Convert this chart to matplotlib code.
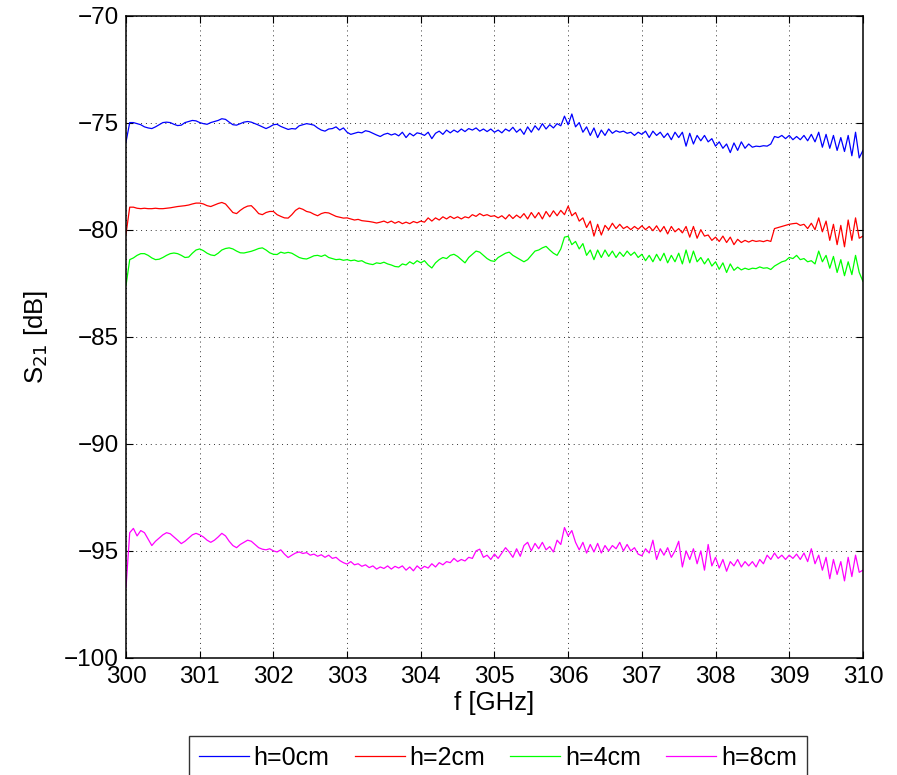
import numpy as np
import matplotlib
matplotlib.use('Agg')
import matplotlib.pyplot as plt

plt.rcParams['font.family'] = ['Liberation Sans', 'DejaVu Sans']

# frequency grid, 0.05 GHz steps from 300 to 310 GHz
freq = np.linspace(300, 310, 201)

# S21 readings [dB], 20 values per GHz
s21_h0 = [
    -75.9, -75.0, -75.0, -75.05, -75.1, -75.2, -75.25, -75.28, -75.2, -75.1,
    -75.0, -74.98, -75.0, -75.08, -75.14, -75.12, -75.0, -74.95, -74.9, -74.92,
    -75.0, -75.05, -75.08, -75.0, -74.95, -74.9, -74.82, -74.85, -74.98, -75.1,
    -75.12, -75.05, -74.98, -74.95, -74.98, -75.05, -75.12, -75.2, -75.28, -75.2,
    -75.1, -75.08, -75.18, -75.25, -75.32, -75.28, -75.3, -75.15, -75.1, -75.05,
    -75.08, -75.12, -75.25, -75.35, -75.4, -75.3, -75.28, -75.2, -75.35, -75.25,
    -75.45, -75.55, -75.5, -75.45, -75.48, -75.38, -75.42, -75.5, -75.58, -75.65,
    -75.55, -75.5, -75.58, -75.52, -75.62, -75.45, -75.7, -75.5, -75.62, -75.48,
    -75.52, -75.6, -75.45, -75.75, -75.5, -75.4, -75.55, -75.35, -75.48, -75.35,
    -75.45, -75.3, -75.42, -75.28, -75.35, -75.25, -75.4, -75.3, -75.42, -75.3,
    -75.45, -75.35, -75.48, -75.3, -75.4, -75.22, -75.45, -75.3, -75.55, -75.2,
    -75.45, -75.15, -75.35, -75.05, -75.3, -75.1, -75.25, -75.05, -75.15, -74.7,
    -75.1, -74.6, -75.2, -75.0, -75.45, -75.2, -75.6, -75.25, -75.7, -75.35,
    -75.6, -75.3, -75.5, -75.38, -75.45, -75.4, -75.5, -75.45, -75.6, -75.45,
    -75.55, -75.4, -75.7, -75.4, -75.6, -75.45, -75.7, -75.5, -75.8, -75.45,
    -75.7, -75.45, -76.1, -75.5, -76.0, -75.6, -75.85, -75.6, -75.9, -75.75,
    -76.1, -75.9, -76.2, -76.0, -76.4, -75.95, -76.3, -75.9, -76.2, -76.0,
    -76.15, -76.1, -76.12, -76.08, -76.1, -76.0, -75.65, -75.7, -75.6, -75.75,
    -75.6, -75.8, -75.65, -75.8, -75.6, -75.85, -75.55, -75.9, -75.45, -76.15,
    -75.55, -76.2, -75.6, -76.3, -75.7, -76.35, -75.6, -76.55, -75.45, -76.65,
    -76.3,
]

s21_h2 = [
    -80.2, -78.95, -78.95, -79.0, -79.02, -79.0, -79.02, -79.02, -79.0, -79.02,
    -79.02, -79.0, -78.98, -78.95, -78.92, -78.9, -78.88, -78.85, -78.8, -78.76,
    -78.76, -78.8, -78.88, -78.92, -78.85, -78.78, -78.73, -78.8, -79.0, -79.2,
    -79.25, -79.1, -78.98, -78.9, -78.88, -79.05, -79.25, -79.3, -79.2, -79.15,
    -79.15, -79.3, -79.38, -79.45, -79.46, -79.3, -79.1, -78.99, -79.05, -79.15,
    -79.19, -79.28, -79.35, -79.25, -79.2, -79.22, -79.3, -79.38, -79.42, -79.46,
    -79.45, -79.5, -79.55, -79.52, -79.58, -79.6, -79.62, -79.65, -79.69, -79.65,
    -79.6, -79.68, -79.6, -79.7, -79.62, -79.72, -79.65, -79.72, -79.62, -79.68,
    -79.6, -79.65, -79.45, -79.6, -79.45, -79.55, -79.4, -79.5, -79.38, -79.48,
    -79.4, -79.5, -79.4, -79.45, -79.3, -79.38, -79.25, -79.35, -79.3, -79.38,
    -79.35, -79.45, -79.35, -79.5, -79.3, -79.48, -79.32, -79.45, -79.25, -79.5,
    -79.2, -79.45, -79.2, -79.5, -79.15, -79.4, -79.12, -79.35, -79.1, -79.3,
    -78.9, -79.35, -79.2, -79.6, -79.45, -79.9, -79.6, -80.3, -79.75, -80.25,
    -79.8, -80.0, -79.7, -79.95, -79.75, -79.95, -79.85, -80.0, -79.85, -79.98,
    -79.82, -80.0, -79.85, -80.05, -79.82, -80.1, -79.85, -80.2, -79.85, -80.1,
    -79.95, -80.15, -79.85, -80.35, -79.85, -80.4, -80.0, -80.3, -80.25, -80.5,
    -80.35, -80.55, -80.3, -80.6, -80.35, -80.7, -80.45, -80.6, -80.5, -80.58,
    -80.5, -80.55, -80.52, -80.56, -80.5, -80.55, -79.95, -79.9, -79.85, -79.8,
    -79.75, -79.72, -79.7, -79.8, -79.75, -79.95, -79.7, -80.0, -79.45, -80.1,
    -79.6, -80.5, -79.75, -80.7, -79.8, -80.8, -79.55, -80.5, -79.45, -80.4,
    -80.3,
]

s21_h4 = [
    -82.6, -81.4, -81.32, -81.2, -81.12, -81.12, -81.2, -81.32, -81.4, -81.38,
    -81.3, -81.2, -81.12, -81.09, -81.12, -81.2, -81.3, -81.28, -81.1, -80.95,
    -80.9, -80.98, -81.1, -81.18, -81.21, -81.1, -80.95, -80.88, -80.85, -80.9,
    -81.0, -81.08, -81.09, -81.05, -81.01, -80.95, -80.88, -80.85, -80.95, -81.08,
    -81.15, -81.16, -81.05, -81.1, -81.06, -81.1, -81.2, -81.3, -81.35, -81.37,
    -81.3, -81.22, -81.2, -81.25, -81.18, -81.3, -81.35, -81.4, -81.38, -81.43,
    -81.4, -81.45, -81.42, -81.48, -81.45, -81.55, -81.6, -81.63, -81.55, -81.58,
    -81.52, -81.6, -81.65, -81.72, -81.74, -81.6, -81.65, -81.5, -81.6, -81.45,
    -81.55, -81.45, -81.65, -81.79, -81.55, -81.4, -81.3, -81.35, -81.2, -81.15,
    -81.25, -81.4, -81.55, -81.3, -81.15, -81.0, -81.05, -81.2, -81.35, -81.45,
    -81.48, -81.3, -81.2, -81.1, -81.05, -81.2, -81.3, -81.4, -81.5, -81.4,
    -81.2, -81.0, -80.95, -80.85, -80.78, -80.95, -81.1, -81.2, -80.9, -80.35,
    -80.31, -80.7, -80.55, -80.9, -80.65, -81.2, -80.95, -81.4, -80.95, -81.3,
    -80.95, -81.25, -81.0, -81.3, -81.05, -81.25, -81.0, -81.2, -81.05, -81.3,
    -81.15, -81.45, -81.2, -81.5, -81.15, -81.45, -81.1, -81.55, -81.2, -81.5,
    -81.1, -81.6, -80.95, -81.55, -81.0, -81.5, -81.3, -81.6, -81.35, -81.7,
    -81.5, -81.85, -81.55, -82.0, -81.6, -81.9, -81.75, -81.88, -81.8, -81.86,
    -81.8, -81.82, -81.74, -81.8, -81.78, -81.86, -81.7, -81.6, -81.5, -81.45,
    -81.3, -81.35, -81.2, -81.4, -81.35, -81.5, -81.45, -81.6, -81.0, -81.5,
    -81.2, -81.8, -81.25, -82.0, -81.4, -82.15, -81.5, -82.1, -81.2, -82.0,
    -82.41,
]

s21_h8 = [
    -96.7, -94.15, -93.95, -94.3, -94.05, -94.15, -94.45, -94.75, -94.55, -94.4,
    -94.25, -94.15, -94.2, -94.35, -94.5, -94.66, -94.55, -94.4, -94.25, -94.18,
    -94.25, -94.35, -94.5, -94.6, -94.5, -94.35, -94.18, -94.3, -94.55, -94.75,
    -94.85, -94.7, -94.6, -94.5, -94.55, -94.7, -94.85, -94.92, -94.95, -94.9,
    -95.0, -95.05, -94.95, -95.15, -95.31, -95.2, -95.1, -95.05, -95.12, -95.08,
    -95.2, -95.15, -95.25, -95.18, -95.3, -95.2, -95.35, -95.3, -95.45, -95.55,
    -95.62, -95.5, -95.65, -95.6, -95.72, -95.65, -95.78, -95.7, -95.85, -95.75,
    -95.82, -95.7, -95.85, -95.72, -95.8, -95.7, -95.9, -95.75, -95.93, -95.7,
    -95.85, -95.72, -95.8, -95.6, -95.75, -95.55, -95.65, -95.5, -95.55, -95.35,
    -95.5, -95.4, -95.47, -95.3, -95.35, -95.0, -94.92, -95.3, -95.2, -95.4,
    -95.15, -95.35, -95.1, -94.85, -95.05, -95.3, -94.9, -95.25, -94.75, -94.6,
    -95.0, -94.65, -94.9, -94.6, -94.95, -94.8, -95.05, -94.5, -94.7, -93.91,
    -94.3, -94.05, -94.6, -94.95, -94.6, -95.1, -94.7, -95.05, -94.65, -95.1,
    -94.75, -95.0, -94.75, -94.9, -94.6, -95.0, -94.7, -95.0, -94.85, -95.15,
    -95.23, -94.9, -95.1, -94.5, -95.4, -94.9, -95.2, -94.85, -95.3, -95.0,
    -94.55, -95.75, -95.0, -95.4, -94.9, -95.6, -95.0, -95.9, -94.7, -95.7,
    -95.3, -95.8, -95.4, -95.95, -95.5, -95.7, -95.4, -95.75, -95.5, -95.7,
    -95.5, -95.75, -95.4, -95.6, -95.2, -95.4, -95.1, -95.35, -95.2, -95.4,
    -95.2, -95.35, -95.15, -95.4, -95.1, -95.5, -94.9, -95.6, -95.2, -95.9,
    -95.3, -96.3, -95.4, -96.1, -95.5, -96.4, -95.3, -96.2, -95.2, -96.0,
    -95.9,
]

labels = ['h=0cm', 'h=2cm', 'h=4cm', 'h=8cm']
colors = ['#0000ff', '#ff0000', '#00ff00', '#ff00ff']
series = [s21_h0, s21_h2, s21_h4, s21_h8]

fig = plt.figure(figsize=(8.97, 7.75), dpi=100)
ax = fig.add_axes([0.1405, 0.151, 0.8215, 0.829])

for vals, lab, col in zip(series, labels, colors):
    ax.plot(freq, vals, color=col, lw=0.9, label=lab)

ax.set_xlim(300, 310)
ax.set_ylim(-100, -70)
ax.set_xticks(np.arange(300, 311, 1))
ax.set_yticks(np.arange(-100, -69, 5))
ax.grid(True, color='#333333', linestyle=(0, (1, 4)), lw=0.7)
ax.tick_params(direction='in', top=True, right=True, length=5, width=0.8,
               labelsize=17.5)
ax.tick_params(axis='x', pad=6)
ax.tick_params(axis='y', pad=5)
for sp in ax.spines.values():
    sp.set_linewidth(1.1)

ax.set_xlabel('f [GHz]', fontsize=18.5, labelpad=2)
ax.set_ylabel('S$_{21}$ [dB]', fontsize=18.5, labelpad=10)

fig.legend(loc='upper center', bbox_to_anchor=(0.555, 0.0503), ncol=4,
           fontsize=18, frameon=True, fancybox=False, edgecolor='black',
           handlelength=2.0, handletextpad=0.2, columnspacing=1.0,
           borderaxespad=0, borderpad=0.4)

fig.savefig('out.png', dpi=100)
